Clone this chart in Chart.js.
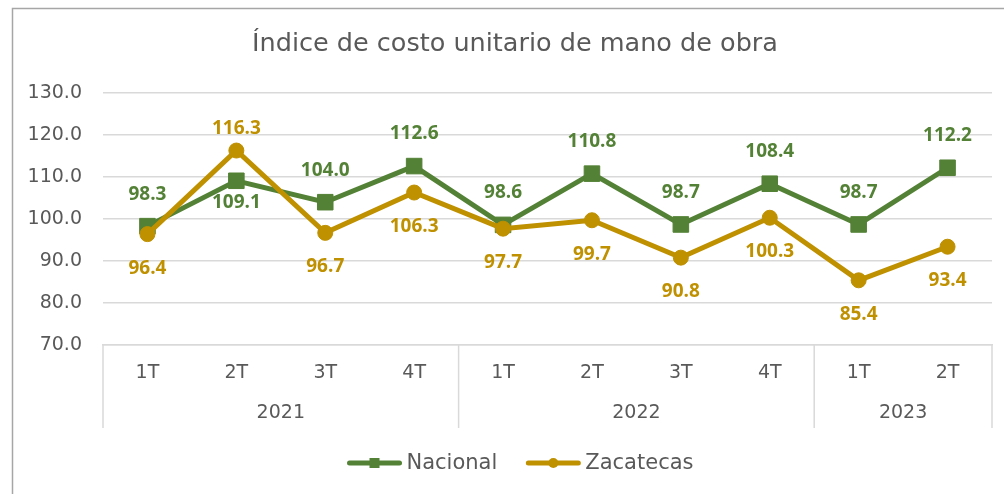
<!DOCTYPE html>
<html>
<head>
<meta charset="utf-8">
<script src="https://cdn.jsdelivr.net/npm/chart.js@4/dist/chart.umd.min.js"></script>
<style>
  html, body { margin: 0; padding: 0; background: #fff; }
  #wrap { width: 1004px; height: 494px; }
</style>
</head>
<body>
<div id="wrap"><canvas id="costo"></canvas></div>
<script>
var quarters = ['1T', '2T', '3T', '4T', '1T', '2T', '3T', '4T', '1T', '2T'];
var years = ['2021', '2021', '2021', '2021', '2022', '2022', '2022', '2022', '2023', '2023'];
var nacional = [98.3, 109.1, 104.0, 112.6, 98.6, 110.8, 98.7, 108.4, 98.7, 112.2];
var zacatecas = [96.4, 116.3, 96.7, 106.3, 97.7, 99.7, 90.8, 100.3, 85.4, 93.4];
var title = 'Índice de costo unitario de mano de obra';

var FONT = '"DejaVu Sans", sans-serif';
var LABEL_FONT = '"Open Sans", sans-serif';
var GRAY = '#595959';
var GRID = '#D9D9D9';
var GREEN = '#538135';
var GOLD = '#BF9000';

// white page, outer frame and title (centred on the frame, not the plot)
var framePlugin = {
    id: 'frame',
    beforeDraw: function (chart) {
        var ctx = chart.ctx;
        ctx.save();
        ctx.fillStyle = '#fff';
        ctx.fillRect(0, 0, chart.width, chart.height);
        ctx.strokeStyle = '#A6A6A6';
        ctx.lineWidth = 1.5;
        ctx.strokeRect(12.5, 8.5, chart.width + 20, chart.height + 20);
        ctx.fillStyle = GRAY;
        ctx.font = '25.5px ' + FONT;
        ctx.textAlign = 'center';
        ctx.textBaseline = 'middle';
        ctx.fillText(title, 515, 44);
        ctx.restore();
    }
};

// second row of the category axis: year groups with separators
var yearAxisPlugin = {
    id: 'yearAxis',
    afterDraw: function (chart) {
        var ctx = chart.ctx;
        var x = chart.scales.x;
        var area = chart.chartArea;
        var bottom = x.bottom;
        var bounds = [area.left];
        var groups = [];
        var start = 0;
        for (var i = 1; i <= years.length; i++) {
            if (i === years.length || years[i] !== years[start]) {
                groups.push(years[start]);
                if (i < years.length) {
                    bounds.push((x.getPixelForValue(i - 1) + x.getPixelForValue(i)) / 2);
                }
                start = i;
            }
        }
        bounds.push(area.right);

        ctx.save();
        ctx.strokeStyle = GRID;
        ctx.lineWidth = 1.5;
        bounds.forEach(function (bx) {
            ctx.beginPath();
            ctx.moveTo(bx, area.bottom);
            ctx.lineTo(bx, bottom);
            ctx.stroke();
        });
        ctx.fillStyle = GRAY;
        ctx.font = '19px ' + FONT;
        ctx.textAlign = 'center';
        ctx.textBaseline = 'middle';
        groups.forEach(function (label, k) {
            ctx.fillText(label, (bounds[k] + bounds[k + 1]) / 2, area.bottom + 68);
        });
        ctx.restore();
    }
};

// value labels; each series has a usual side, flipped (and tighter) where it crosses the other
var valueLabelPlugin = {
    id: 'valueLabels',
    afterDatasetsDraw: function (chart) {
        var ctx = chart.ctx;
        var sets = chart.data.datasets;
        ctx.save();
        ctx.font = 'bold 19px ' + LABEL_FONT;
        ctx.textAlign = 'center';
        ctx.textBaseline = 'middle';
        sets.forEach(function (ds, d) {
            var other = sets[1 - d].data;
            var meta = chart.getDatasetMeta(d);
            meta.data.forEach(function (pt, i) {
                var v = ds.data[i];
                var higher = v >= other[i];
                var dy;
                if (ds.labelSide === 'above') {
                    dy = higher ? -32 : 22;
                } else {
                    dy = higher ? -22 : 34;
                }
                ctx.fillStyle = ds.borderColor;
                ctx.fillText(v.toFixed(1), pt.x, pt.y + dy);
            });
        });
        ctx.restore();
    }
};

// legend: line sample with marker, then series name
var legendPlugin = {
    id: 'lineLegend',
    afterDraw: function (chart) {
        var ctx = chart.ctx;
        var sets = chart.data.datasets;
        var y = 463;
        var lineW = 56, gap = 4, spacing = 28;
        ctx.save();
        ctx.font = '21px ' + FONT;
        var widths = sets.map(function (ds) { return lineW + gap + ctx.measureText(ds.label).width; });
        var total = widths.reduce(function (a, b) { return a + b; }, 0) + spacing * (sets.length - 1);
        var x = 520 - total / 2;
        sets.forEach(function (ds, d) {
            ctx.strokeStyle = ds.borderColor;
            ctx.fillStyle = ds.borderColor;
            ctx.lineWidth = 5;
            ctx.lineCap = 'round';
            ctx.beginPath();
            ctx.moveTo(x + 3, y);
            ctx.lineTo(x + lineW - 3, y);
            ctx.stroke();
            var mx = x + lineW / 2;
            if (ds.pointStyle === 'rect') {
                ctx.fillRect(mx - 5, y - 5, 10, 10);
            } else {
                ctx.beginPath();
                ctx.arc(mx, y, 5, 0, Math.PI * 2);
                ctx.fill();
            }
            ctx.fillStyle = GRAY;
            ctx.textAlign = 'left';
            ctx.textBaseline = 'middle';
            ctx.fillText(ds.label, x + lineW + gap, y + 1);
            x += widths[d] + spacing;
        });
        ctx.restore();
    }
};

var ctx = document.getElementById('costo').getContext('2d');
var chart = new Chart(ctx, {
    type: 'line',
    data: {
        labels: quarters,
        datasets: [
            {
                label: 'Nacional',
                data: nacional,
                borderColor: GREEN,
                backgroundColor: GREEN,
                borderWidth: 5,
                pointStyle: 'rect',
                pointRadius: 11,
                pointBorderWidth: 1,
                tension: 0,
                order: 2,
                labelSide: 'above'
            },
            {
                label: 'Zacatecas',
                data: zacatecas,
                borderColor: GOLD,
                backgroundColor: GOLD,
                borderWidth: 5,
                pointStyle: 'circle',
                pointRadius: 7.5,
                pointBorderWidth: 1,
                tension: 0,
                order: 1,
                labelSide: 'below'
            }
        ]
    },
    options: {
        responsive: true,
        maintainAspectRatio: false,
        animation: false,
        layout: { padding: { left: 13, right: 12, top: 93, bottom: 66 } },
        plugins: {
            legend: { display: false },
            tooltip: { enabled: false },
            title: { display: false }
        },
        scales: {
            x: {
                offset: true,
                grid: { display: false, drawTicks: false },
                border: { display: true, color: GRID, width: 1.5 },
                ticks: { color: GRAY, font: { family: FONT, size: 19 }, padding: 17, maxRotation: 0, autoSkip: false },
                afterFit: function (scale) { scale.height = 83; }
            },
            y: {
                min: 70,
                max: 130,
                grid: { color: GRID, lineWidth: 1.5, drawTicks: false },
                border: { display: false },
                ticks: {
                    stepSize: 10,
                    color: GRAY,
                    font: { family: FONT, size: 19 },
                    padding: 21,
                    callback: function (v) { return v.toFixed(1); }
                },
                afterFit: function (scale) { scale.width = 90; }
            }
        }
    },
    plugins: [framePlugin, yearAxisPlugin, valueLabelPlugin, legendPlugin]
});
</script>
</body>
</html>
